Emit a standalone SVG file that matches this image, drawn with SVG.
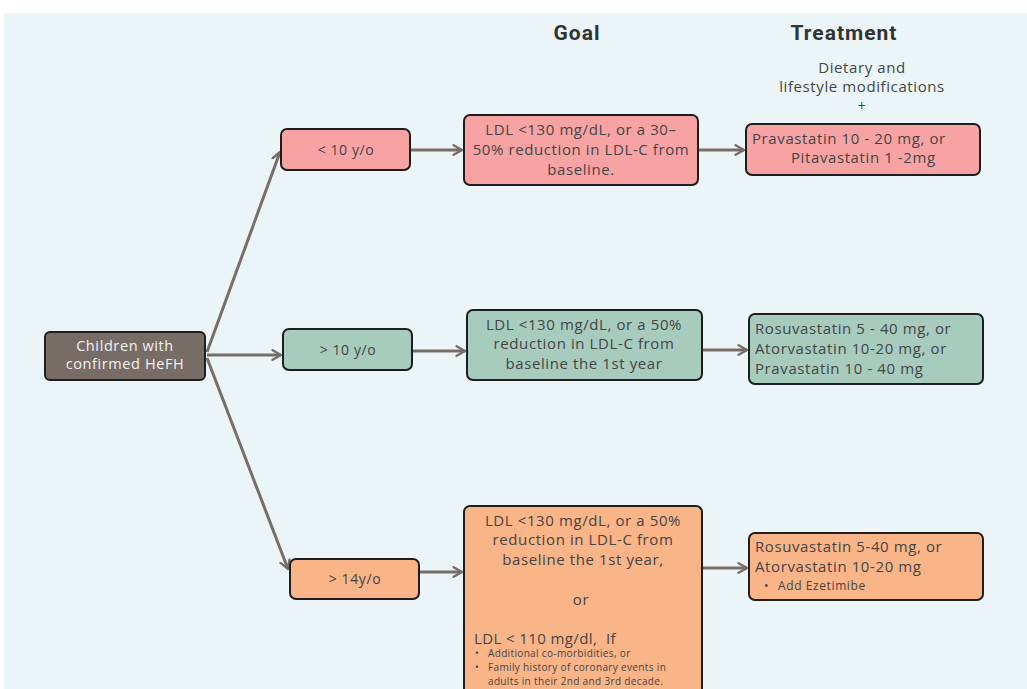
<svg xmlns="http://www.w3.org/2000/svg" width="1027" height="689" viewBox="0 0 1027 689">
<defs>
<style>
.box{stroke:#1e1e1e;stroke-width:2}
.t{font-family:"Open Sans","Liberation Sans",sans-serif;fill:#454545;font-size:15px;letter-spacing:0.6px}
.c{text-anchor:middle}
.h{font-family:Roboto,"Liberation Sans",sans-serif;font-weight:bold;font-size:21px;letter-spacing:1px;fill:#333;text-anchor:middle}
.s{font-size:10px;letter-spacing:0.35px}
.conn{stroke:#786e69;stroke-width:3;fill:none;marker-end:url(#ah)}
</style>
<marker id="ah" viewBox="0 0 10 10" refX="8" refY="5" markerWidth="4" markerHeight="4" orient="auto" markerUnits="strokeWidth">
<path d="M1,1 L8,5 L1,9" fill="none" stroke="#786e69" stroke-width="2" stroke-linecap="round" stroke-linejoin="round"/>
</marker>
</defs>
<rect x="0" y="0" width="1027" height="689" fill="#ffffff"/>
<rect x="4" y="13" width="1023" height="676" fill="#ebf5f7"/>

<g id="headers">
<text class="h" x="577" y="40">Goal</text>
<text class="h" x="844" y="40">Treatment</text>
<text class="t c" x="862" y="73">Dietary and</text>
<text class="t c" x="862" y="92">lifestyle modifications</text>
<text class="t c" x="862" y="111" style="font-size:14px">+</text>
</g>

<g id="connectors">
<line class="conn" x1="207" y1="352" x2="280" y2="152"/>
<line class="conn" x1="207" y1="355" x2="281" y2="355"/>
<line class="conn" x1="207" y1="358" x2="288" y2="569"/>
<line class="conn" x1="410" y1="150" x2="462" y2="150"/>
<line class="conn" x1="412" y1="351" x2="465" y2="351"/>
<line class="conn" x1="419" y1="572" x2="462" y2="572"/>
<line class="conn" x1="698" y1="150" x2="744" y2="150"/>
<line class="conn" x1="702" y1="350" x2="747" y2="350"/>
<line class="conn" x1="702" y1="568" x2="747" y2="568"/>
</g>

<g id="children">
<rect class="box" x="45" y="332" width="160" height="48" rx="5" fill="#786c66"/>
<text class="t c" x="125" y="351" style="fill:#f2f2f2;font-size:14.5px">Children with</text>
<text class="t c" x="125" y="369" style="fill:#f2f2f2;font-size:14.5px">confirmed HeFH</text>
</g>

<g id="age-lt10">
<rect class="box" x="281" y="129" width="129" height="41" rx="6" fill="#f8a3a3"/>
<text class="t c" x="346" y="155" style="font-size:14px">&lt; 10 y/o</text>
</g>
<g id="age-gt10">
<rect class="box" x="283" y="329" width="129" height="41" rx="6" fill="#a7cbbd"/>
<text class="t c" x="348" y="355" style="font-size:14px">&gt; 10 y/o</text>
</g>
<g id="age-gt14">
<rect class="box" x="290" y="559" width="129" height="40" rx="6" fill="#f9b488"/>
<text class="t c" x="355" y="584" style="font-size:14px">&gt; 14y/o</text>
</g>

<g id="goal-lt10">
<rect class="box" x="464" y="115" width="234" height="70" rx="6" fill="#f8a3a3"/>
<text class="t c" x="581" y="135">LDL &lt;130 mg/dL, or a 30–</text>
<text class="t c" x="581" y="155">50% reduction in LDL-C from</text>
<text class="t c" x="581" y="175">baseline.</text>
</g>
<g id="goal-gt10">
<rect class="box" x="467" y="310" width="235" height="70" rx="6" fill="#a7cbbd"/>
<text class="t c" x="584" y="330">LDL &lt;130 mg/dL, or a 50%</text>
<text class="t c" x="584" y="349">reduction in LDL-C from</text>
<text class="t c" x="584" y="369">baseline the 1st year</text>
</g>
<g id="goal-gt14">
<rect class="box" x="464" y="506" width="238" height="200" rx="6" fill="#f9b488"/>
<text class="t c" x="583" y="526">LDL &lt;130 mg/dL, or a 50%</text>
<text class="t c" x="583" y="545">reduction in LDL-C from</text>
<text class="t c" x="583" y="565">baseline the 1st year,</text>
<text class="t c" x="581" y="605">or</text>
<text class="t" x="474" y="644" style="letter-spacing:0.4px;white-space:pre">LDL &lt; 110 mg/dl,  If</text>
<text class="t s" x="475" y="657">•</text>
<text class="t s" x="488" y="657">Additional co-morbidities, or</text>
<text class="t s" x="475" y="671">•</text>
<text class="t s" x="488" y="671">Family history of coronary events in</text>
<text class="t s" x="488" y="685">adults in their 2nd and 3rd decade.</text>
</g>

<g id="treat-lt10">
<rect class="box" x="746" y="124" width="234" height="51" rx="6" fill="#f8a3a3"/>
<text class="t" x="752" y="144">Pravastatin 10 - 20 mg, or</text>
<text class="t" x="791" y="163">Pitavastatin 1 -2mg</text>
</g>
<g id="treat-gt10">
<rect class="box" x="749" y="314" width="234" height="70" rx="6" fill="#a7cbbd"/>
<text class="t" x="755" y="334">Rosuvastatin 5 - 40 mg, or</text>
<text class="t" x="755" y="354">Atorvastatin 10-20 mg, or</text>
<text class="t" x="755" y="374">Pravastatin 10 - 40 mg</text>
</g>
<g id="treat-gt14">
<rect class="box" x="749" y="533" width="234" height="67" rx="6" fill="#f9b488"/>
<text class="t" x="755" y="552">Rosuvastatin 5-40 mg, or</text>
<text class="t" x="755" y="572">Atorvastatin 10-20 mg</text>
<text class="t" x="764" y="590" style="font-size:12px">•</text>
<text class="t" x="778" y="590" style="font-size:12px">Add Ezetimibe</text>
</g>
</svg>
